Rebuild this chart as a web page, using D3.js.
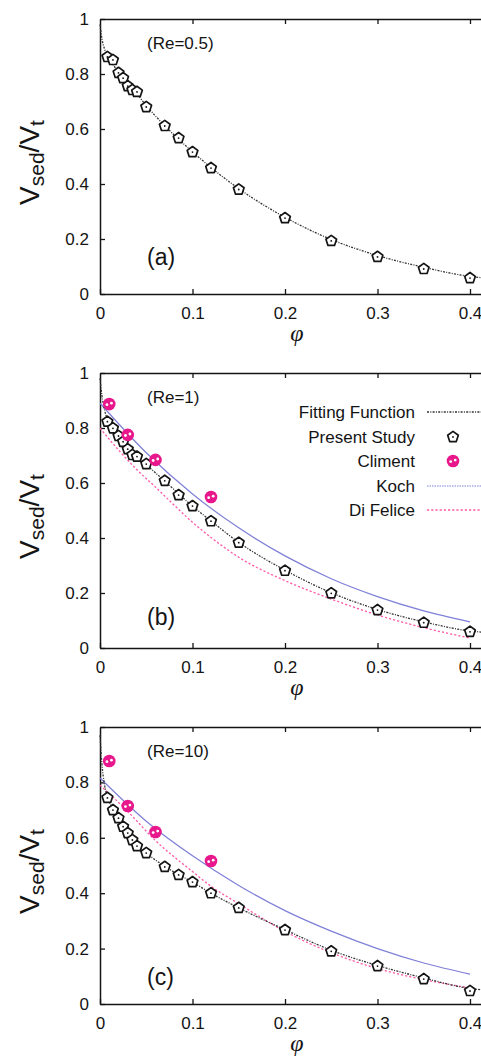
<!DOCTYPE html>
<html><head><meta charset="utf-8">
<script src="https://cdn.jsdelivr.net/npm/d3@7"></script>
<style>html,body{margin:0;padding:0;background:#fff;} svg{display:block;}</style>
</head><body>
<svg id="chart" width="481" height="1058"></svg>
<script>
// ---------- data ----------
const xTicks = [0, 0.1, 0.2, 0.3, 0.4];
const yTicks = [0, 0.2, 0.4, 0.6, 0.8, 1];
const panelTags = ["(a)", "(b)", "(c)"];
const reLabels = ["(Re=0.5)", "(Re=1)", "(Re=10)"];
const legendLabels = ["Fitting Function", "Present Study", "Climent", "Koch", "Di Felice"];

const studyPhi = [0.008, 0.014, 0.02, 0.025, 0.03, 0.035, 0.04, 0.05, 0.07, 0.085, 0.1, 0.12, 0.15, 0.2, 0.25, 0.3, 0.35, 0.4];
const studyA = [0.862, 0.851, 0.804, 0.785, 0.756, 0.742, 0.735, 0.68, 0.611, 0.567, 0.516, 0.458, 0.38, 0.276, 0.193, 0.135, 0.091, 0.058];
const studyB = [0.823, 0.799, 0.771, 0.75, 0.723, 0.702, 0.696, 0.669, 0.608, 0.556, 0.516, 0.461, 0.383, 0.281, 0.199, 0.138, 0.092, 0.059];
const studyC = [0.744, 0.70, 0.671, 0.64, 0.617, 0.592, 0.57, 0.545, 0.495, 0.466, 0.44, 0.40, 0.347, 0.267, 0.19, 0.137, 0.09, 0.047];

const fitPhiA = [0, 0.002, 0.005, 0.01, 0.02, 0.03, 0.04, 0.05, 0.07, 0.1, 0.12, 0.15, 0.2, 0.25, 0.3, 0.35, 0.4, 0.43];
const fitA = [0.98, 0.93, 0.89, 0.855, 0.808, 0.762, 0.727, 0.685, 0.612, 0.517, 0.46, 0.383, 0.279, 0.198, 0.14, 0.097, 0.064, 0.055];
const fitPhiB = [0, 0.002, 0.005, 0.01, 0.02, 0.03, 0.04, 0.05, 0.07, 0.1, 0.12, 0.15, 0.2, 0.25, 0.3, 0.35, 0.4, 0.43];
const fitB = [0.98, 0.92, 0.865, 0.82, 0.772, 0.735, 0.698, 0.667, 0.607, 0.516, 0.462, 0.384, 0.283, 0.201, 0.14, 0.095, 0.062, 0.054];
const fitPhiC = [0, 0.002, 0.005, 0.008, 0.015, 0.02, 0.03, 0.04, 0.05, 0.07, 0.1, 0.12, 0.15, 0.2, 0.25, 0.3, 0.35, 0.4, 0.43];
const fitC = [0.97, 0.87, 0.79, 0.748, 0.70, 0.672, 0.617, 0.574, 0.545, 0.497, 0.44, 0.40, 0.347, 0.268, 0.194, 0.139, 0.094, 0.056, 0.048];

const climentPhi = [0.01, 0.03, 0.06, 0.12];
const climentB = [0.887, 0.775, 0.684, 0.549];
const climentC = [0.877, 0.715, 0.621, 0.516];

const kochPhi = [0, 0.05, 0.1, 0.15, 0.2, 0.25, 0.3, 0.35, 0.4];
const kochB = [0.89, 0.71, 0.56, 0.437, 0.335, 0.252, 0.187, 0.135, 0.095];
const kochC = [0.816, 0.66, 0.535, 0.428, 0.337, 0.263, 0.2, 0.148, 0.108];

const felicePhiB = [0, 0.02, 0.04, 0.06, 0.08, 0.1, 0.12, 0.15, 0.2, 0.25, 0.3, 0.35, 0.4];
const feliceB = [0.80, 0.72, 0.648, 0.585, 0.52, 0.457, 0.402, 0.33, 0.245, 0.178, 0.12, 0.074, 0.036];
const felicePhiC = [0, 0.03, 0.06, 0.1, 0.12, 0.15, 0.2, 0.25, 0.3, 0.35, 0.4];
const feliceC = [0.79, 0.695, 0.59, 0.478, 0.425, 0.362, 0.262, 0.185, 0.128, 0.088, 0.058];

// ---------- layout ----------
const svg = d3.select("#chart");
const INK = "#141414";
const KOCH = "#7f7fd8";
const FELICE = "#ff5aa8";
const CLIM = "#e8188c";
const FONT = "'Liberation Sans', Arial, sans-serif";
const fmt = d3.format("~g");

const panels = [
  {top: 19, bottom: 294, tagBase: 265, study: studyA, fitPhi: fitPhiA, fit: fitA},
  {top: 373, bottom: 648, tagBase: 625, study: studyB, fitPhi: fitPhiB, fit: fitB,
   clim: climentB, koch: kochB, felPhi: felicePhiB, fel: feliceB, legend: true},
  {top: 727, bottom: 1004, tagBase: 985, study: studyC, fitPhi: fitPhiC, fit: fitC,
   clim: climentC, koch: kochC, felPhi: felicePhiC, fel: feliceC}
];

const x = d3.scaleLinear().domain([0, 0.43]).range([100, 100 + 0.43 * 925]);

function pentagon(g, cx, cy) {
  const r = 5.6;
  const pts = d3.range(5).map(k => {
    const a = (-90 + 72 * k) * Math.PI / 180;
    return [cx + r * Math.cos(a), cy + r * Math.sin(a)];
  });
  g.append("path").attr("d", "M" + pts.join("L") + "Z")
    .attr("fill", "#fff").attr("stroke", INK).attr("stroke-width", 1.7)
    .attr("stroke-linejoin", "round");
  g.append("circle").attr("cx", cx).attr("cy", cy).attr("r", 0.9).attr("fill", INK);
}
function climent(g, cx, cy) {
  g.append("circle").attr("cx", cx).attr("cy", cy).attr("r", 6.3).attr("fill", CLIM);
  g.append("circle").attr("cx", cx - 2.3).attr("cy", cy + 0.6).attr("r", 1.4).attr("fill", "#fff");
  g.append("circle").attr("cx", cx + 2.2).attr("cy", cy - 0.9).attr("r", 1.4).attr("fill", "#fff");
}

panels.forEach((p, i) => {
  const y = d3.scaleLinear().domain([0, 1]).range([p.bottom, p.top]);
  const g = svg.append("g");
  const line = d3.line().x(d => x(d[0])).y(d => y(d[1])).curve(d3.curveMonotoneX);

  // axes
  const left = g.append("g").attr("transform", `translate(${x(0)},0)`)
    .call(d3.axisLeft(y).tickValues(yTicks).tickFormat(fmt).tickSize(-5).tickSizeOuter(0).tickPadding(11));
  const bottom = g.append("g").attr("transform", `translate(0,${p.bottom})`)
    .call(d3.axisBottom(x).tickValues(xTicks).tickFormat(fmt).tickSize(-5).tickSizeOuter(0).tickPadding(13));
  const top = g.append("g").attr("transform", `translate(0,${p.top})`)
    .call(d3.axisTop(x).tickValues(xTicks.slice(1)).tickSize(-5).tickSizeOuter(0).tickFormat(""));
  [left, bottom, top].forEach(a => {
    a.selectAll("path.domain").attr("stroke", INK).attr("stroke-width", 1.5);
    a.selectAll(".tick line").attr("stroke", INK).attr("stroke-width", 1.3);
    a.selectAll(".tick text").attr("fill", INK).style("font-family", FONT).style("font-size", "17px");
  });

  // curves
  if (p.fel) {
    g.append("path").datum(p.felPhi.map((v, k) => [v, p.fel[k]]))
      .attr("d", line).attr("fill", "none").attr("stroke", FELICE)
      .attr("stroke-width", 1.3).attr("stroke-dasharray", "2.2,2");
  }
  if (p.koch) {
    g.append("path").datum(kochPhi.map((v, k) => [v, p.koch[k]]))
      .attr("d", line).attr("fill", "none").attr("stroke", KOCH)
      .attr("stroke-width", 1.2);
  }
  g.append("path").datum(p.fitPhi.map((v, k) => [v, p.fit[k]]))
    .attr("d", line).attr("fill", "none").attr("stroke", "#333")
    .attr("stroke-width", 1.3).attr("stroke-dasharray", "2,1.3,1,1.3");

  // markers
  studyPhi.forEach((v, k) => pentagon(g, x(v), y(p.study[k])));
  if (p.clim) climentPhi.forEach((v, k) => climent(g, x(v), y(p.clim[k])));

  // texts
  g.append("text").attr("x", 147).attr("y", p.top + 30).text(reLabels[i])
    .attr("fill", INK).style("font-family", FONT).style("font-size", "17px");
  g.append("text").attr("x", 147).attr("y", p.tagBase).text(panelTags[i])
    .attr("fill", INK).style("font-family", FONT).style("font-size", "23px");
  g.append("text").attr("x", 297).attr("y", p.bottom + 47).attr("text-anchor", "middle")
    .text("φ").attr("fill", INK)
    .style("font-family", "'Liberation Serif', 'DejaVu Serif', serif")
    .style("font-style", "italic").style("font-size", "24px");
  const yl = g.append("text")
    .attr("transform", `translate(39,${(p.top + p.bottom) / 2 + 6}) rotate(-90)`)
    .attr("text-anchor", "middle").attr("fill", INK).style("font-family", FONT);
  yl.append("tspan").text("V").style("font-size", "28px");
  yl.append("tspan").text("sed").attr("dy", 5).style("font-size", "21px");
  yl.append("tspan").text("/V").attr("dy", -5).style("font-size", "28px");
  yl.append("tspan").text("t").attr("dy", 5).style("font-size", "21px");

  // legend
  if (p.legend) {
    const rows = [39, 64, 88, 113, 137];
    rows.forEach((dy, k) => {
      const cy = p.top + dy;
      g.append("text").attr("x", 415).attr("y", cy + 6).attr("text-anchor", "end")
        .text(legendLabels[k]).attr("fill", INK)
        .style("font-family", FONT).style("font-size", "17px");
      if (k === 0) g.append("line").attr("x1", 427).attr("x2", 485).attr("y1", cy).attr("y2", cy)
        .attr("stroke", "#333").attr("stroke-width", 1.3).attr("stroke-dasharray", "2,1.3,1,1.3");
      if (k === 1) pentagon(g, 453, cy);
      if (k === 2) climent(g, 453, cy);
      if (k === 3) g.append("line").attr("x1", 427).attr("x2", 485).attr("y1", cy).attr("y2", cy)
        .attr("stroke", KOCH).attr("stroke-width", 1.2).attr("stroke-dasharray", "1.5,1");
      if (k === 4) g.append("line").attr("x1", 427).attr("x2", 485).attr("y1", cy).attr("y2", cy)
        .attr("stroke", FELICE).attr("stroke-width", 1.3).attr("stroke-dasharray", "2.2,2");
    });
  }
});
</script>
</body></html>
